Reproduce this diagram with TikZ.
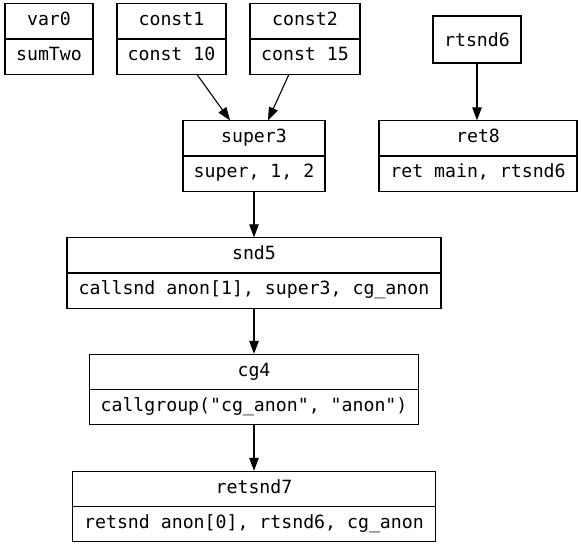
\documentclass[tikz,border=0pt]{standalone}
\usepackage{fontspec}
\setmonofont{DejaVu Sans Mono}
\usetikzlibrary{shapes.multipart,arrows.meta}
\newcommand{\recfont}{\ttfamily\fontsize{18.2}{22}\selectfont}

\begin{document}
\begin{tikzpicture}[x=1pt, y=-1pt, every node/.style={font=\recfont},
  rec/.style={draw, rectangle split, rectangle split parts=2, minimum width=#1,
    inner ysep=6pt, line width=1.1pt, execute at begin node=\strut},
  arr/.style={-{Triangle[length=13pt,width=9.5pt]}, line width=1.1pt}]
  \useasboundingbox (0,0) rectangle (582,546);
  \node[rec=88pt]  (var0)    at (49,39)    {var0\nodepart{two}\strut sumTwo};
  \node[rec=109pt] (const1)  at (171.5,39) {const1\nodepart{two}\strut const 10};
  \node[rec=110pt] (const2)  at (305,39)   {const2\nodepart{two}\strut const 15};
  \node[draw, line width=1.1pt, minimum width=88pt, minimum height=47pt] (rtsnd6) at (477,39.5) {rtsnd6};
  \node[rec=142pt] (super3)  at (254,156)  {super3\nodepart{two}\strut super, 1, 2};
  \node[rec=198pt] (ret8)    at (478,156)  {ret8\nodepart{two}\strut ret main, rtsnd6};
  \node[rec=374pt] (snd5)    at (254,273)  {snd5\nodepart{two}\strut callsnd anon[1], super3, cg\_anon};
  \node[rec=329pt] (cg4)     at (254,389.5) {cg4\nodepart{two}\strut callgroup("cg\_anon", "anon")};
  \node[rec=363pt] (retsnd7) at (254,506.5) {retsnd7\nodepart{two}\strut retsnd anon[0], rtsnd6, cg\_anon};
  \draw[arr] (const1) -- ([xshift=-24pt]super3.north);
  \draw[arr] (const2) -- ([xshift=14pt]super3.north);
  \draw[arr] (rtsnd6) -- (rtsnd6 |- ret8.north);
  \draw[arr] (super3.south) -- (snd5.north);
  \draw[arr] (snd5.south) -- (cg4.north);
  \draw[arr] (cg4.south) -- (retsnd7.north);
\end{tikzpicture}
\end{document}
